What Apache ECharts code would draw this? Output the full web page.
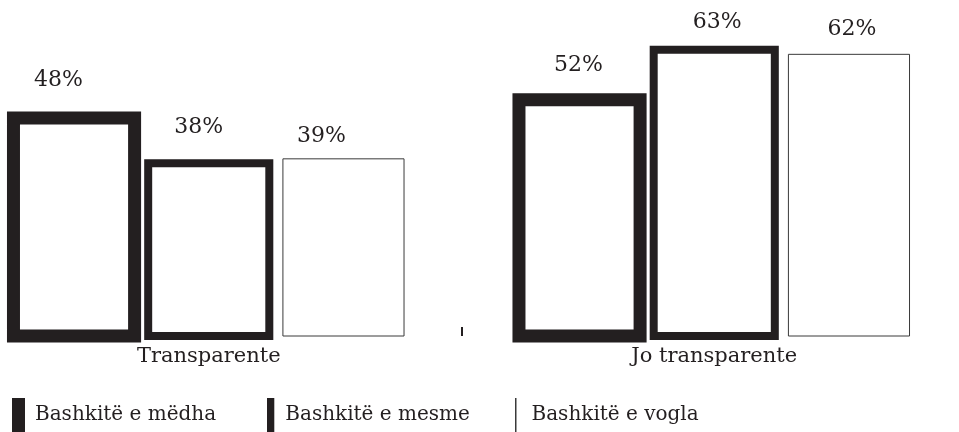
<!DOCTYPE html>
<html>
<head>
<meta charset="utf-8">
<script src="https://cdn.jsdelivr.net/npm/echarts@6/dist/echarts.min.js"></script>
<style>
  html, body { margin: 0; padding: 0; background: #ffffff; }
  #chart { width: 959px; height: 432px; }
</style>
</head>
<body>
<div id="chart"></div>
<script>
// ---- data ----
const categories = ['Transparente', 'Jo transparente'];
const seriesNames = ['Bashkitë e mëdha', 'Bashkitë e mesme', 'Bashkitë e vogla'];
const bashkiteMedha = [48, 52];
const bashkiteMesme = [38, 63];
const bashkiteVogla = [39, 62];

// ---- styling / layout (not data) ----
const INK = '#231f20';
const FONT = 'DejaVu Serif';
const borderWidths = [13, 8, 1];
const strokeColors = [INK, INK, '#3a3a3a'];
const slotOffsets = [-1, 0, 1];
const BAR_FRAC = 0.2396;   // bar width as a fraction of the category band
const STEP_FRAC = 0.2665;  // distance between neighbouring bars as a fraction of the band
// label nudges [dx, dy] relative to bar top centre, per series then per category
const labelNudge = [
  [[-15.5, -38], [-1, -34]],
  [[-10, -36], [3, -28]],
  [[-22, -23], [3, -25]]
];
const legendLeft = [12, 267, 515];
const legendIconW = [13, 7.3, 1.5];
const legendTextPad = [5, 6, 10];

const valueLists = [bashkiteMedha, bashkiteMesme, bashkiteVogla];

function makeSeries(si) {
  return {
    type: 'custom',
    name: seriesNames[si],
    itemStyle: { color: INK },
    encode: { x: 0, y: 1 },
    clip: false,
    data: valueLists[si].map((v, ci) => [ci, v]),
    renderItem: function (params, api) {
      const ci = api.value(0);
      const val = api.value(1);
      const base = api.coord([ci, 0]);
      const top = api.coord([ci, val]);
      const band = api.size([1, 0])[0];
      const barW = band * BAR_FRAC;
      const cx = base[0] + slotOffsets[si] * band * STEP_FRAC;
      const nudge = labelNudge[si][ci];
      return {
        type: 'group',
        children: [
          {
            type: 'rect',
            shape: { x: cx - barW / 2, y: top[1], width: barW, height: base[1] - top[1] },
            style: { fill: '#ffffff', stroke: strokeColors[si], lineWidth: borderWidths[si] }
          },
          {
            type: 'text',
            style: {
              text: val + '%',
              x: cx + nudge[0],
              y: top[1] + nudge[1],
              align: 'center',
              verticalAlign: 'middle',
              fill: INK,
              font: '22px "' + FONT + '"'
            }
          }
        ]
      };
    }
  };
}

const legends = seriesNames.map((name, i) => ({
  data: [{ name: name, icon: 'rect', itemStyle: { color: i === 2 ? '#3a3a3a' : INK } }],
  left: legendLeft[i],
  top: 398,
  padding: 0,
  itemWidth: legendIconW[i],
  itemHeight: 34,
  selectedMode: false,
  textStyle: {
    fontFamily: FONT,
    fontSize: 20,
    color: INK,
    padding: [8, 0, 0, legendTextPad[i]]
  }
}));

const chart = echarts.init(document.getElementById('chart'), null, { renderer: 'canvas' });
chart.setOption({
  animation: false,
  backgroundColor: '#ffffff',
  grid: { left: -44, right: -8, top: 18, bottom: 96, containLabel: false, outerBoundsMode: 'none' },
  legend: legends,
  xAxis: {
    type: 'category',
    data: categories,
    axisLine: { show: false },
    axisTick: { show: true, inside: true, length: 9, lineStyle: { color: INK, width: 2 } },
    axisLabel: { fontFamily: FONT, fontSize: 21, color: INK, margin: 10 },
    splitLine: { show: false }
  },
  yAxis: {
    type: 'value',
    min: 0,
    max: 70,
    show: false,
    splitLine: { show: false }
  },
  series: [makeSeries(0), makeSeries(1), makeSeries(2)]
});
</script>
</body>
</html>
